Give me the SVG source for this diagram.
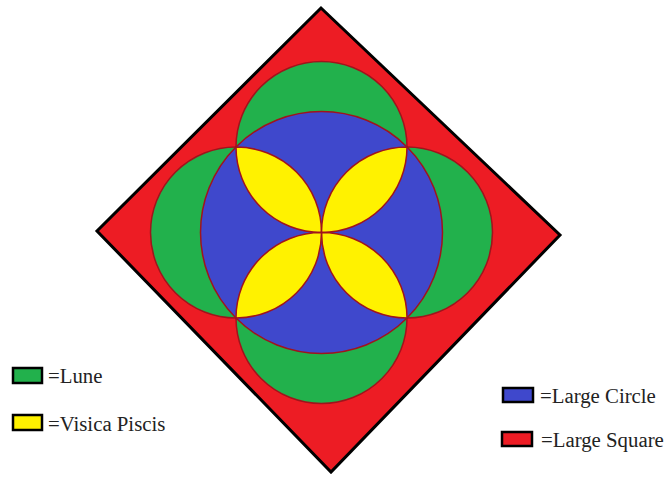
<svg xmlns="http://www.w3.org/2000/svg" width="669" height="477" viewBox="0 0 669 477">
<style>
.sq{fill:#ed1c24;stroke:#000;stroke-width:3;stroke-linejoin:miter}
.lune{fill:#22b14c;stroke:#a0141c;stroke-width:1.5}
.big{fill:#3f48cc;stroke:#a0141c;stroke-width:1.5}
.pet{fill:#fff200;stroke:#a0141c;stroke-width:1.5}
.box{stroke:#000;stroke-width:2.5}
.lbl{font-family:"Liberation Serif","Times New Roman",serif;font-size:20.8px;fill:#222}
</style>
<rect width="669" height="477" fill="#fff"/>
<g id="large-square"><polygon class="sq" points="321,8 560,235 331,472 97,231"/></g>
<g id="lunes">
<circle class="lune" cx="321.5" cy="147" r="85.5"/>
<circle class="lune" cx="407" cy="232.5" r="85.5"/>
<circle class="lune" cx="321.5" cy="318" r="85.5"/>
<circle class="lune" cx="236" cy="232.5" r="85.5"/>
</g>
<g id="large-circle"><circle class="big" cx="321.5" cy="232.5" r="121"/></g>
<g id="visica-piscis">
<path class="pet" d="M236 147A85.5 85.5 0 0 1 321.5 232.5A85.5 85.5 0 0 1 236 147Z"/>
<path class="pet" d="M407 147A85.5 85.5 0 0 1 321.5 232.5A85.5 85.5 0 0 1 407 147Z"/>
<path class="pet" d="M407 318A85.5 85.5 0 0 1 321.5 232.5A85.5 85.5 0 0 1 407 318Z"/>
<path class="pet" d="M236 318A85.5 85.5 0 0 1 321.5 232.5A85.5 85.5 0 0 1 236 318Z"/>
</g>
<g id="connectors"/>
<g id="legend-lune"><rect class="box" x="13" y="368" width="29" height="15" fill="#22b14c"/><text class="lbl" x="48" y="383">=Lune</text></g>
<g id="legend-visica"><rect class="box" x="13" y="415" width="29" height="15" fill="#fff200"/><text class="lbl" x="48" y="431">=Visica Piscis</text></g>
<g id="legend-circle"><rect class="box" x="503" y="388" width="30" height="14" fill="#3f48cc"/><text class="lbl" x="540" y="403">=Large Circle</text></g>
<g id="legend-square"><rect class="box" x="502" y="432" width="30" height="14" fill="#ed1c24"/><text class="lbl" x="541" y="447">=Large Square</text></g>
</svg>
